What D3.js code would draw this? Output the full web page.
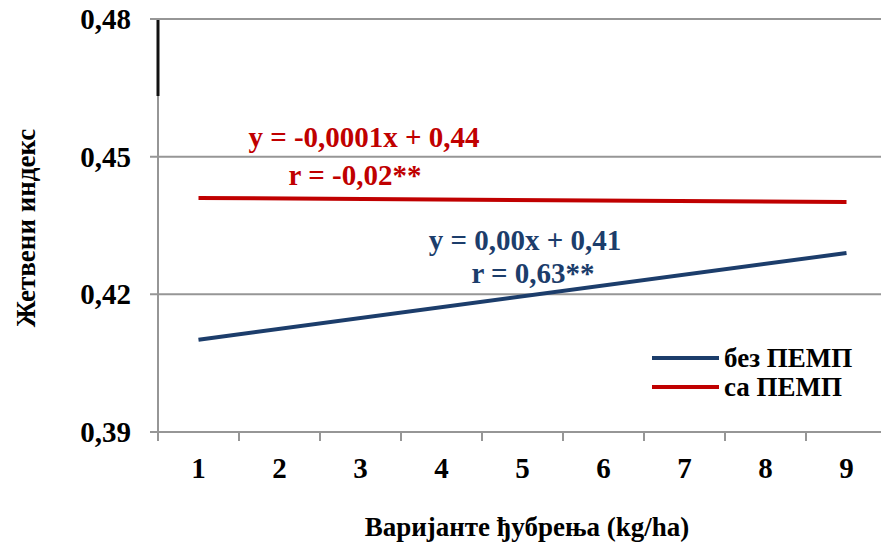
<!DOCTYPE html>
<html>
<head>
<meta charset="utf-8">
<script src="https://cdn.jsdelivr.net/npm/d3@7"></script>
<style>
  html, body { margin: 0; padding: 0; background: #fff; }
  svg { display: block; }
  text { font-family: "Liberation Serif", "Times New Roman", serif; font-weight: bold; }
</style>
</head>
<body>
<svg id="chart" width="881" height="552"></svg>
<script>
// Fertiliser variants on the x axis
const categories = [1, 2, 3, 4, 5, 6, 7, 8, 9];
// Y axis tick labels
const yTicks = [0.39, 0.42, 0.45, 0.48];
const yTickLabels = ["0,39", "0,42", "0,45", "0,48"];
// Linear trend lines: [variant, harvest index]
const bezPEMP = [[1, 0.4101], [9, 0.4290]];
const saPEMP = [[1, 0.4410], [9, 0.4401]];
// Series names
const seriesNames = ["без ПЕМП", "са ПЕМП"];
// Regression annotations
const eqSa = ["y = -0,0001x + 0,44", "r = -0,02**"];
const eqBez = ["y = 0,00x + 0,41", "r = 0,63**"];
const xTitle = "Варијанте ђубрења  (kg/ha)";
const yTitle = "Жетвени индекс";

const RED = "#C00000";
const BLUE = "#1C3D6B";
const GRID = "#969696";

(function () {
const svg = d3.select("#chart");
const plotLeft = 158, plotTop = 19, plotBottom = 432, step = 81;
const plotRight = plotLeft + step * categories.length;

const xBand = d3.scaleBand().domain(categories).range([plotLeft, plotRight]);
const x = d3.scalePoint().domain(categories).range([plotLeft, plotRight]).padding(0.5);
const xLin = d3.scaleLinear().domain([1, 9]).range([x(1), x(9)]);
const y = d3.scaleLinear().domain([0.39, 0.48]).range([plotBottom, plotTop]);

// horizontal gridlines with short ticks left of the axis
svg.append("g").selectAll("line").data(yTicks.slice(1)).join("line")
  .attr("x1", plotLeft - 8).attr("x2", 881)
  .attr("y1", d => y(d)).attr("y2", d => y(d))
  .attr("stroke", GRID).attr("stroke-width", 2);

// y axis line
svg.append("line").attr("x1", plotLeft).attr("x2", plotLeft)
  .attr("y1", plotTop).attr("y2", plotBottom + 9)
  .attr("stroke", GRID).attr("stroke-width", 2);
// dark segment at the top of the y axis
svg.append("line").attr("x1", plotLeft).attr("x2", plotLeft)
  .attr("y1", plotTop + 1).attr("y2", 96)
  .attr("stroke", "#111").attr("stroke-width", 3);

// x axis line + category boundary ticks
svg.append("line").attr("x1", plotLeft - 8).attr("x2", 881)
  .attr("y1", plotBottom).attr("y2", plotBottom)
  .attr("stroke", GRID).attr("stroke-width", 2);
svg.append("g").selectAll("line").data(categories).join("line")
  .attr("x1", d => xBand(d)).attr("x2", d => xBand(d))
  .attr("y1", plotBottom).attr("y2", plotBottom + 9)
  .attr("stroke", GRID).attr("stroke-width", 2);

// y tick labels
svg.append("g").selectAll("text").data(yTicks).join("text")
  .attr("x", 131).attr("y", d => y(d))
  .attr("dy", "0.35em").attr("text-anchor", "end")
  .attr("font-size", 29).attr("fill", "#000")
  .text((d, i) => yTickLabels[i]);

// x tick labels
svg.append("g").selectAll("text").data(categories).join("text")
  .attr("x", d => x(d)).attr("y", 478)
  .attr("text-anchor", "middle")
  .attr("font-size", 29).attr("fill", "#000")
  .text(d => d);

// axis titles
svg.append("text").attr("x", 527).attr("y", 536)
  .attr("text-anchor", "middle").attr("font-size", 27).attr("fill", "#000")
  .text(xTitle);
svg.append("text").attr("transform", "translate(35,228) rotate(-90)")
  .attr("text-anchor", "middle").attr("font-size", 27).attr("fill", "#000")
  .text(yTitle);

// trend lines
const line = d3.line().x(d => xLin(d[0])).y(d => y(d[1]));
svg.append("path").datum(saPEMP).attr("d", line)
  .attr("fill", "none").attr("stroke", RED).attr("stroke-width", 4);
svg.append("path").datum(bezPEMP).attr("d", line)
  .attr("fill", "none").attr("stroke", BLUE).attr("stroke-width", 4);

// regression annotations
const ann = svg.append("g").attr("font-size", 29);
ann.append("text").attr("x", 364).attr("y", 147).attr("text-anchor", "middle").attr("fill", RED).text(eqSa[0]);
ann.append("text").attr("x", 355).attr("y", 185).attr("text-anchor", "middle").attr("fill", RED).text(eqSa[1]);
ann.append("text").attr("x", 525).attr("y", 250).attr("text-anchor", "middle").attr("fill", BLUE).text(eqBez[0]);
ann.append("text").attr("x", 533).attr("y", 283).attr("text-anchor", "middle").attr("fill", BLUE).text(eqBez[1]);

// legend
const legend = svg.append("g");
const legColors = [BLUE, RED];
const legY = [358, 387];
seriesNames.forEach((name, i) => {
  legend.append("line").attr("x1", 652).attr("x2", 719)
    .attr("y1", legY[i]).attr("y2", legY[i])
    .attr("stroke", legColors[i]).attr("stroke-width", 4);
  legend.append("text").attr("x", 724).attr("y", legY[i]).attr("dy", "0.35em")
    .attr("font-size", 27).attr("fill", "#000").text(name);
});
})();
</script>
</body>
</html>
